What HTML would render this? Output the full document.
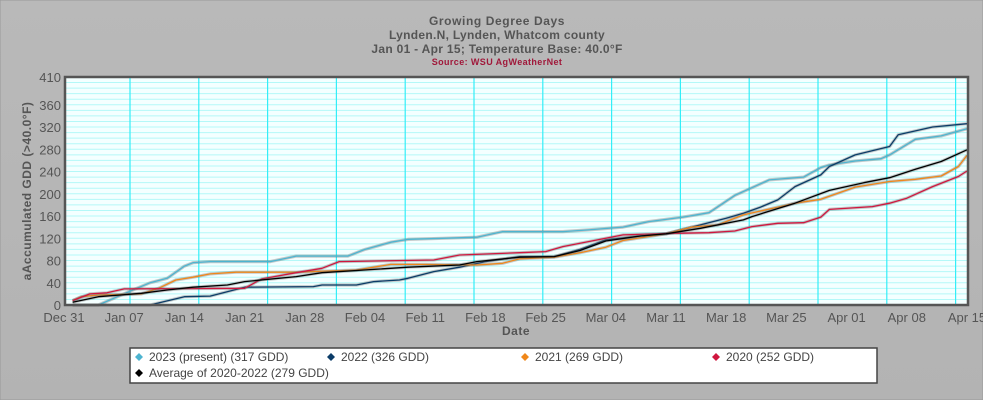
<!DOCTYPE html>
<html><head><meta charset="utf-8"><style>
html,body{margin:0;padding:0;background:#b5b5b5;}
svg{display:block;font-family:"Liberation Sans",sans-serif;}
</style></head><body>
<svg id="chart" width="983" height="400" viewBox="0 0 983 400">
<defs><linearGradient id="bg" x1="0" y1="0" x2="0" y2="1"><stop offset="0" stop-color="#b9b9b9"/><stop offset="1" stop-color="#b3b3b3"/></linearGradient></defs>
<rect x="0" y="0" width="983" height="400" fill="url(#bg)" stroke="#999"/>
<g text-anchor="middle" fill="#555" font-weight="bold">
<text x="497" y="25" font-size="12" letter-spacing="0.6">Growing Degree Days</text>
<text x="497" y="39" font-size="12" letter-spacing="0.3">Lynden.N, Lynden, Whatcom county</text>
<text x="497" y="53" font-size="12" letter-spacing="0.3">Jan 01 - Apr 15; Temperature Base: 40.0°F</text>
<text x="497" y="65" font-size="9" fill="#a0183a" letter-spacing="0.4">Source:  WSU AgWeatherNet</text>
</g>
<rect x="65" y="77" width="903" height="228" fill="#f4ffff"/>
<g id="grid"></g>
<g id="series"></g>
<rect x="65" y="77" width="903" height="228" fill="none" stroke="#555" stroke-width="2.5"/>
<g id="yticks" fill="#555" font-size="13" text-anchor="end"></g>
<g id="xticks" fill="#555" font-size="13" text-anchor="middle"></g>
<text x="0" y="0" transform="translate(31,191) rotate(-90)" text-anchor="middle" font-size="12" font-weight="bold" fill="#555" letter-spacing="0.5">aAccumulated GDD (&gt;40.0°F)</text>
<text x="516" y="335" text-anchor="middle" font-size="12" font-weight="bold" fill="#555" letter-spacing="0.5">Date</text>
<g>
<rect x="130" y="348" width="747" height="35" fill="#fff" stroke="#444" stroke-width="1.5"/>
<g id="legend" font-size="12" fill="#444"></g>
</g>
</svg>
<script>
var tickValues=[0,40,80,120,160,200,240,280,320,360,410];
var tickDays=[0,7,14,21,28,35,42,49,56,63,70,77,84,91,98,105];
var tickLabels=["Dec 31","Jan 07","Jan 14","Jan 21","Jan 28","Feb 04","Feb 11","Feb 18","Feb 25","Mar 04","Mar 11","Mar 18","Mar 25","Apr 01","Apr 08","Apr 15"];
var days2023=[1,4,8,10,12,14,15,17,24,27,33,35,38,40,44,48,51,58,61,65,68,72,75,78,82,86,88,89,92,95,96,99,102,105];
var vals2023=[0,0,27,40,48,70,76,78,78,88,88,100,113,118,120,122,132,132,135,140,150,158,166,197,225,230,247,252,259,263,270,298,304,317];
var days2022=[1,10,14,17,21,29,30,34,36,39,40,43,46,49,53,57,60,63,67,70,74,77,79,81,83,85,88,89,92,96,97,101,105];
var vals2022=[0,0,15,16,32,33,36,36,42,45,48,60,68,78,87,87,100,117,124,128,144,156,165,176,189,213,234,249,270,285,306,320,326];
var days2021=[1,2,4,9,11,13,15,17,20,27,34,38,42,48,51,53,57,60,63,65,70,73,76,79,85,88,92,96,99,102,104,105];
var vals2021=[8,15,18,20,30,45,50,56,59,59,63,73,73,72,75,83,86,94,104,116,128,140,144,162,183,190,212,222,226,232,249,269];
var days2020=[1,3,5,7,21,23,27,30,32,43,46,53,56,58,65,71,75,78,80,83,86,88,89,94,96,98,101,104,105];
var vals2020=[8,20,22,29,30,47,58,66,78,81,90,94,96,105,126,129,130,133,141,147,148,158,172,177,183,192,213,231,241];
var daysAvg=[1,4,9,12,15,19,21,27,30,40,46,48,53,57,60,63,67,70,74,79,80,85,89,93,96,99,102,105];
var valsAvg=[5,15,21,27,32,36,42,51,58,68,72,78,86,87,98,115,124,128,138,153,159,183,206,220,229,244,258,279];
var seriesNames=["2023 (present) (317 GDD)","2022 (326 GDD)","2021 (269 GDD)","2020 (252 GDD)","Average of 2020-2022 (279 GDD)"];

var NS="http://www.w3.org/2000/svg";
function X(d){return 64+d*8.6;}
function Y(v){return 305-v*228/410;}
function mk(tag,attrs,parent){var e=document.createElementNS(NS,tag);for(var k in attrs)e.setAttribute(k,attrs[k]);parent.appendChild(e);return e;}
var grid=document.getElementById('grid');
for(var v=10;v<410;v+=10){
  var l=mk('line',{x1:66,x2:967,y1:Y(v),y2:Y(v),stroke:'#b4f8f8','stroke-width':1},grid);
  
  
}
for(var i=0;i<13;i++){
  var gx=130+i*68.8;
  var l2=mk('line',{x1:gx,x2:gx,y1:78,y2:304,stroke:'#33eef8','stroke-width':1.2},grid);
  
  
}
var yt=document.getElementById('yticks');
tickValues.forEach(function(v){
  var t=mk('text',{x:61,y:Y(v)+5},yt);t.textContent=v;
  
  
});
var xt=document.getElementById('xticks');
tickDays.forEach(function(d,i){
  var t=mk('text',{x:X(d),y:322},xt);t.textContent=tickLabels[i];
  
  
});
var S=[[days2023,vals2023,'#4db4d0','series-2023'],[days2022,vals2022,'#0b3c68','series-2022'],[days2021,vals2021,'#f0871a','series-2021'],[days2020,vals2020,'#d0173f','series-2020'],[daysAvg,valsAvg,'#000000','series-average']];
var sg=document.getElementById('series');
S.forEach(function(s){
  var pts=s[0].map(function(d,i){return X(d).toFixed(1)+','+Y(s[1][i]).toFixed(1);}).join(' ');
  var sh=mk('polyline',{points:pts,fill:'none',stroke:'#666','stroke-width':3.2,'stroke-opacity':0.35,'stroke-linejoin':'round'},sg);
  
  
  var p=mk('polyline',{points:pts,fill:'none',stroke:s[2],'stroke-width':1.3,'stroke-linejoin':'round'},sg);
  
  
});
var lg=document.getElementById('legend');
var pos=[[139,361],[331,361],[525,361],[716,361],[139,377]];
var cols=['#4db4d0','#0b3c68','#f0871a','#d0173f','#000000'];
seriesNames.forEach(function(n,i){
  var g=mk('g',{},lg);
  
  
  var px=pos[i][0],py=pos[i][1];
  mk('polygon',{points:(px-4)+','+(py-4)+' '+px+','+(py-8)+' '+(px+4)+','+(py-4)+' '+px+','+py,fill:cols[i]},g);
  var t=mk('text',{x:px+10,y:py},g);t.textContent=n;
});
</script>
</body></html>
